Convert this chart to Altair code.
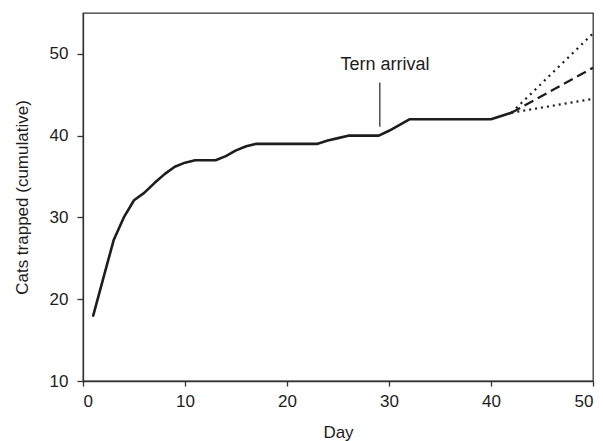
import altair as alt
import pandas as pd

# Observed cumulative catch
days = list(range(1, 43))
cats = [18.0, 22.6, 27.2, 30.0, 32.1, 33.0, 34.2, 35.3, 36.2, 36.7,
        37.0, 37.0, 37.0, 37.5, 38.2, 38.7, 39.0, 39.0, 39.0, 39.0,
        39.0, 39.0, 39.0, 39.4, 39.7, 40.0, 40.0, 40.0, 40.0, 40.6,
        41.3, 42.0, 42.0, 42.0, 42.0, 42.0, 42.0, 42.0, 42.0, 42.0,
        42.4, 42.8]

# Projections (start and end)
proj_days = [42, 50]
proj_upper = [42.8, 52.5]
proj_mid = [42.8, 48.3]
proj_lower = [42.8, 44.5]

# Annotation
ann_day = 29.1
ann_text_day = 29.6
ann_text_y = 48.7
ann_rule_y = [41.1, 46.5]
ann_label = "Tern arrival"

FONT = "Liberation Sans"
INK = "#1e1c1c"

obs = pd.DataFrame({"Day": days, "Cats": cats})

xs = alt.Scale(domain=[0, 50], nice=False, zero=False)
ys = alt.Scale(domain=[10, 55], nice=False, zero=False)

x_axis = alt.Axis(values=[0, 10, 20, 30, 40, 50], grid=False, tickSize=5,
                  labelPadding=7, labelFontSize=17, labelFont=FONT,
                  labelColor=INK, domainColor="#333333", tickColor="#333333",
                  domainWidth=1.3, tickWidth=1.3, title="Day", titleFont=FONT,
                  titleFontSize=17, titleFontWeight="normal", titleColor=INK,
                  titleBaseline="alphabetic", titleY=56, titleX=255)
y_axis = alt.Axis(values=[10, 20, 30, 40, 50], grid=False, tickSize=6,
                  labelPadding=9, labelFontSize=17, labelFont=FONT,
                  labelColor=INK, domainColor="#333333", tickColor="#333333",
                  domainWidth=1.3, tickWidth=1.3,
                  title="Cats trapped (cumulative)", titleFont=FONT,
                  titleFontSize=17, titleFontWeight="normal", titleColor=INK,
                  titleBaseline="alphabetic", titleX=-56, titleY=184,
                  titleAngle=270)

line = alt.Chart(obs).mark_line(color=INK, strokeWidth=2.6,
                                strokeJoin="round", strokeCap="round").encode(
    x=alt.X("Day:Q", scale=xs, axis=x_axis),
    y=alt.Y("Cats:Q", scale=ys, axis=y_axis),
)

def proj(vals, dash, width):
    df = pd.DataFrame({"Day": proj_days, "Cats": vals})
    return alt.Chart(df).mark_line(color=INK, strokeWidth=width,
                                   strokeDash=dash).encode(
        x=alt.X("Day:Q", scale=xs),
        y=alt.Y("Cats:Q", scale=ys),
    )

upper = proj(proj_upper, [2, 4.5], 2.2)
mid = proj(proj_mid, [10, 5], 2.2)
lower = proj(proj_lower, [2, 4], 2.2)

rule_df = pd.DataFrame({"Day": [ann_day], "y1": [ann_rule_y[0]], "y2": [ann_rule_y[1]]})
rule = alt.Chart(rule_df).mark_rule(color="#333333", strokeWidth=1.3).encode(
    x=alt.X("Day:Q", scale=xs),
    y=alt.Y("y1:Q", scale=ys),
    y2="y2:Q",
)

text_df = pd.DataFrame({"Day": [ann_text_day], "Cats": [ann_text_y], "label": [ann_label]})
text = alt.Chart(text_df).mark_text(font=FONT, fontSize=18, color=INK,
                                    align="center", baseline="middle").encode(
    x=alt.X("Day:Q", scale=xs),
    y=alt.Y("Cats:Q", scale=ys),
    text="label:N",
)

chart = alt.layer(line, upper, mid, lower, rule, text).properties(
    width=510, height=368,
    autosize=alt.AutoSizeParams(type="none"),
    padding={"left": 83, "top": 13, "right": 10, "bottom": 60},
    background="white",
).configure_view(stroke="#333333", strokeWidth=1.3)

chart.save("out.html", embed_options={"renderer": "svg", "actions": False})
